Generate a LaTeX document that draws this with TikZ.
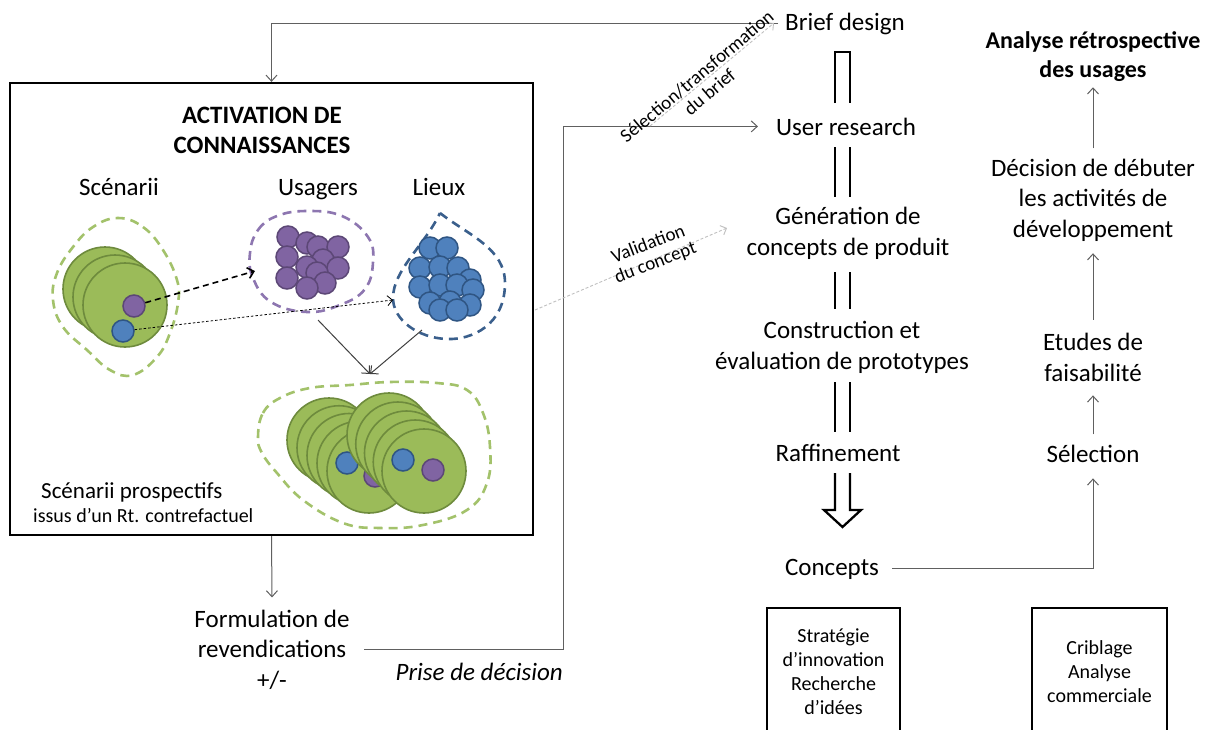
\documentclass[tikz,border=0pt]{standalone}
\usepackage{fontspec}
\setmainfont{Carlito}
\usetikzlibrary{arrows.meta}
\definecolor{gfill}{HTML}{9BBB59}
\definecolor{gline}{HTML}{6E8B3D}
\definecolor{pfill}{HTML}{8064A2}
\definecolor{pline}{HTML}{5C4776}
\definecolor{bfill}{HTML}{4F81BD}
\definecolor{bline}{HTML}{2F5583}
\definecolor{gdash}{HTML}{A3C26B}
\definecolor{pdash}{HTML}{8D76B0}
\definecolor{bdash}{HTML}{3A5F8C}
\definecolor{lgray}{HTML}{C0C0C0}
\definecolor{cgray}{HTML}{606060}
\begin{document}
\begin{tikzpicture}[x=1pt,y=-1pt,
  txt/.style={font=\fontsize{25}{30.5}\selectfont, align=center, inner sep=0pt, anchor=base},
  btxt/.style={txt, font=\bfseries\fontsize{25}{30}\selectfont},
  smalltxt/.style={font=\fontsize{20}{24}\selectfont, align=center, inner sep=0pt},
  rottxt/.style={font=\fontsize{19}{20}\selectfont, align=center, inner sep=0pt},
  conn/.style={draw=cgray, line width=1pt, -{Straight Barb[length=6pt,width=11pt]}},
  dbl/.style={draw=black, line width=2.3pt},
  gcirc/.style={draw=gline, fill=gfill, line width=1.6pt},
  pcirc/.style={draw=pline, fill=pfill, line width=1.5pt},
  bcirc/.style={draw=bline, fill=bfill, line width=1.5pt},
  pdot/.style={circle, draw=pline, fill=pfill, line width=1.5pt, minimum size=22pt, inner sep=0pt},
  bdot/.style={circle, draw=bline, fill=bfill, line width=1.5pt, minimum size=22pt, inner sep=0pt},
  bigbox/.style={draw=black, line width=2.3pt, inner sep=0pt},
  outl/.style={line width=2.6pt, dash pattern=on 9pt off 6pt},
  grayarrow/.style={draw=lgray, line width=0.9pt, dash pattern=on 3pt off 2pt, -{Straight Barb[length=5pt,width=10pt]}}
]
\useasboundingbox (0,0) rectangle (1219,729);
\fill[white] (0,0) rectangle (1219,729);

% ---------- knowledge activation box ----------
\node[bigbox, minimum width=523pt, minimum height=452pt] (actbox) at (271.5,309) {};
\node[btxt] (title) at (262,153) {ACTIVATION DE\\CONNAISSANCES};
\node[txt] (scen) at (119,195) {Scénarii};
\node[txt] (usag) at (318,195) {Usagers};
\node[txt] (lieux) at (439,195) {Lieux};

% outlines
\draw[outl, draw=gdash] plot[smooth cycle, tension=0.7] coordinates {(118,218) (143,227) (163,250) (177,280) (178,303) (170,333) (157,357) (133,375) (110,370) (87,350) (63,327) (53,300) (57,273) (73,247) (93,227)};
\draw[outl, draw=pdash] plot[smooth cycle, tension=0.7] coordinates {(250,253) (258,230) (277,216) (307,211) (342,216) (368,237) (373,262) (365,289) (340,305) (307,312) (271,302) (253,278)};
\draw[outl, draw=bdash] (440,213) .. controls (468,235) and (505,248) .. (505,283) .. controls (505,325) and (472,340) .. (447,339) .. controls (418,338) and (393,320) .. (393,298) .. controls (393,270) and (425,245) .. (440,213) -- cycle;
\draw[outl, draw=gdash] plot[smooth cycle, tension=0.7] coordinates {(258,437) (263,413) (280,398) (310,388) (350,385) (390,382) (437,383) (467,390) (483,413) (490,447) (487,483) (467,510) (423,525) (380,528) (343,523) (303,500) (277,473) (262,453)};

% scenario cluster
\draw[gcirc] (105,289) circle[radius=42];
\draw[gcirc] (115,297) circle[radius=42];
\draw[gcirc] (125,305) circle[radius=42];
\node[pdot] (sp) at (134,306) {};
\node[bdot] (sb) at (123,331) {};

% users
\foreach \x/\y in {288/237, 287/257, 287/278, 307/243, 318/247, 338/247, 323/260, 338/268, 307/267, 317/273, 325/283, 307/288}
  \draw[pcirc] (\x,\y) circle[radius=11];
% places
\foreach \x/\y in {430/248, 447/248, 420/268, 440/267, 458/268, 470/280, 420/287, 440/285, 457/285, 473/290, 430/303, 450/302, 470/305, 440/310, 457/310}
  \draw[bcirc] (\x,\y) circle[radius=11];

% prospective scenarios
\foreach \k in {0,1,2,3,4}
  \draw[gcirc] (329+10*\k,440+7.75*\k) circle[radius=42];
\draw[bcirc] (347,463) circle[radius=11];
\draw[pcirc] (375,476) circle[radius=11];
\foreach \k in {0,1,2,3,4}
  \draw[gcirc] (389+8.75*\k,435+9*\k) circle[radius=42];
\draw[bcirc] (403,460) circle[radius=11];
\draw[pcirc] (433,470) circle[radius=11];

\node[txt, anchor=base west, font=\fontsize{23}{27}\selectfont] (prosp) at (41,498) {Scénarii prospectifs};
\node[smalltxt, anchor=base west] (issus) at (33,522) {issus d’un Rt. contrefactuel};

% arrows inside the box
\coordinate (usin) at (255,271);
\coordinate (lin) at (393,300);
\coordinate (ub) at (318,320);
\coordinate (lb) at (422,330);
\coordinate (cin) at (370,374);
\draw[line width=1.6pt, dash pattern=on 6pt off 4pt, -{Straight Barb[length=6pt,width=11pt]}] (sp) -- (usin);
\draw[line width=0.8pt, dash pattern=on 2.5pt off 2pt, -{Straight Barb[length=5pt,width=10pt]}] (sb) -- (lin);
\draw[conn, draw=black!75] (ub) -- (cin);
\draw[conn, draw=black!75] (lb) -- (cin);

% ---------- below the box ----------
\node[txt] (formul) at (272,688) {Formulation de\\revendications\\+/-};
\node[txt, anchor=base east, font=\itshape\fontsize{25}{30}\selectfont] (prise) at (563,680) {Prise de décision};

% ---------- design process column ----------
\node[txt] (brief) at (845,30) {Brief design};
\node[txt] (user) at (846,135) {User research};
\node[txt] (gen) at (848,255) {Génération de\\concepts de produit};
\node[txt] (constr) at (842,369) {Construction et\\évaluation de prototypes};
\node[txt] (raff) at (838,461) {Raffinement};
\node[txt] (concepts) at (832,575) {Concepts};

\draw[dbl] (835,103) -- (835,52) -- (850,52) -- (850,103);
\draw[dbl] (835,147) -- (835,197);
\draw[dbl] (850,147) -- (850,197);
\draw[dbl] (835,272) -- (835,309);
\draw[dbl] (850,272) -- (850,309);
\draw[dbl] (835,382) -- (835,432);
\draw[dbl] (850,382) -- (850,432);
\draw[dbl, line join=miter] (835,473) -- (835,510) -- (824,510) -- (842.5,527) -- (861,510) -- (850,510) -- (850,473);

% ---------- evaluation column ----------
\node[txt, font=\bfseries\fontsize{24}{29}\selectfont] (analyse) at (1093,77) {Analyse rétrospective\\des usages};
\node[txt] (decision) at (1093,237) {Décision de débuter\\les activités de\\développement};
\node[txt] (etudes) at (1093,381) {Etudes de\\faisabilité};
\node[txt] (sel) at (1093,462) {Sélection};

\draw[conn, shorten <=10pt, shorten >=6pt] (decision) -- (analyse);
\draw[conn, shorten <=13pt, shorten >=12pt] (etudes) -- (decision);
\draw[conn, shorten <=10pt, shorten >=14pt] (sel) -- (etudes);
\draw[conn] ([xshift=13pt]concepts.east) -| ([yshift=-16pt]sel.south);

% ---------- bottom boxes ----------
\node[bigbox, smalltxt, minimum width=133pt, minimum height=127pt] (strat) at (833.5,671.5) {Stratégie\\d’innovation\\Recherche\\d’idées};
\node[bigbox, smalltxt, minimum width=135pt, minimum height=127pt] (crib) at (1099.5,671.5) {Criblage\\Analyse\\commerciale};

% ---------- connectors between parts ----------
\draw[conn] ([xshift=-7pt]brief.west) -| (actbox.north);
\draw[conn] (actbox.south) -- ([yshift=12pt]formul.north);
\coordinate (pstart) at (364,649);
\coordinate (pcorner) at (563,649);
\draw[conn] (pstart) -- (pcorner) |- ([xshift=-18pt]user.west);

\coordinate (selstart) at (650,126);
\coordinate (briefin) at (774,23);
\draw[grayarrow] (selstart) -- (briefin);
\node[rottxt, rotate=40] (sellab) at (703,84) {Sélection/transformation\\du brief};

\coordinate (valstart) at (535,310);
\coordinate (genin) at (727,228);
\draw[grayarrow] (valstart) -- (genin);
\node[rottxt, rotate=21] (vallab) at (652,254) {Validation\\du concept};
\end{tikzpicture}
\end{document}
